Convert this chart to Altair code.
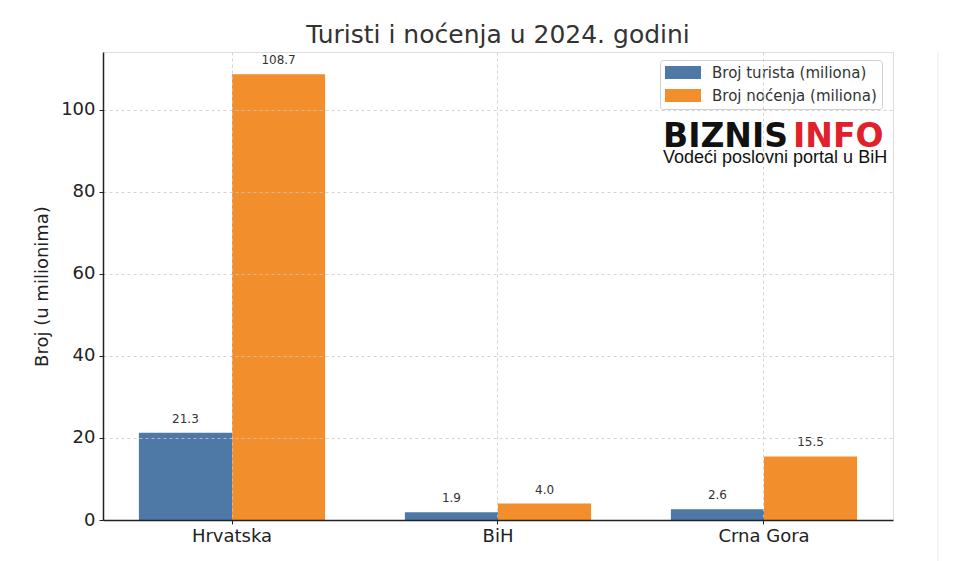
import altair as alt
import pandas as pd

countries = ["Hrvatska", "BiH", "Crna Gora"]
tourists = [21.3, 1.9, 2.6]
nights = [108.7, 4.0, 15.5]
series_names = ["Broj turista (miliona)", "Broj noćenja (miliona)"]
series_colors = ["#4e79a7", "#f28e2b"]

rows = []
for c, t, n in zip(countries, tourists, nights):
    rows.append({"country": c, "series": series_names[0], "value": t})
    rows.append({"country": c, "series": series_names[1], "value": n})
df = pd.DataFrame(rows)
one = pd.DataFrame({"k": [0]})

FONT = "DejaVu Sans"

x_enc = alt.X("country:N", sort=countries, title=None,
              scale=alt.Scale(paddingInner=0.3, paddingOuter=0.135),
              axis=alt.Axis(labelAngle=0, labelFontSize=18, labelFont=FONT, labelColor="#222",
                            grid=True, gridDash=[3, 3], gridColor="#c8c8c8", gridWidth=0.8,
                            bandPosition=0.5, tickBand="center",
                            domainColor="#222", domainWidth=1.5, tickColor="#222", tickSize=4,
                            labelPadding=3, zindex=1))
xo_enc = alt.XOffset("series:N", sort=series_names,
                     scale=alt.Scale(paddingInner=0, paddingOuter=0))
y_enc = alt.Y("value:Q", title="Broj (u milionima)",
              scale=alt.Scale(domain=[0, 114.1], nice=False, zero=True),
              axis=alt.Axis(values=[0, 20, 40, 60, 80, 100], labelFontSize=18, labelFont=FONT,
                            labelColor="#222", titleFontSize=18, titleFont=FONT,
                            titleFontWeight="normal", titleColor="#222", titlePadding=9,
                            grid=True, gridDash=[3, 3], gridColor="#c8c8c8", gridWidth=0.8,
                            domainColor="#222", domainWidth=1.5, tickColor="#222", tickSize=4,
                            labelPadding=4, zindex=1))

bars = alt.Chart(df).mark_bar().encode(
    x=x_enc, xOffset=xo_enc, y=y_enc,
    color=alt.Color("series:N", sort=series_names,
                    scale=alt.Scale(domain=series_names, range=series_colors),
                    legend=alt.Legend(title=None, orient="none", legendX=557, legendY=8,
                                      labelFont=FONT, labelFontSize=15, labelColor="#333",
                                      labelLimit=400,
                                      symbolType="M-1.154,-1H4.385V1H-1.154Z", symbolSize=169,
                                      symbolStrokeWidth=0, symbolOpacity=1,
                                      strokeColor="#d0d0d0", fillColor="white", cornerRadius=3,
                                      padding=5, rowPadding=7, labelOffset=32)),
)

labels = alt.Chart(df).mark_text(dy=-7, fontSize=12, font=FONT, color="#333", baseline="bottom").encode(
    x=alt.X("country:N", sort=countries), xOffset=alt.XOffset("series:N", sort=series_names),
    y="value:Q", text=alt.Text("value:Q", format=".1f"),
)

logo_a = alt.Chart(one).mark_text(text="BIZNIS", font=FONT, fontSize=33, fontWeight="bold",
                                  color="#111", align="left", baseline="alphabetic").encode(
    x=alt.value(560), y=alt.value(95))
logo_b = alt.Chart(one).mark_text(text="INFO", font=FONT, fontSize=33, fontWeight="bold",
                                  color="#e0202a", align="left", baseline="alphabetic").encode(
    x=alt.value(690), y=alt.value(95))
logo_c = alt.Chart(one).mark_text(text="Vodeći poslovni portal u BiH", font="Liberation Sans",
                                  fontSize=18, color="#111", align="left", baseline="alphabetic").encode(
    x=alt.value(560), y=alt.value(111))

edge = alt.Chart(one).mark_rule(color="#ececec", strokeWidth=1, clip=False).encode(
    x=alt.value(835), y=alt.value(0), y2=alt.value(509))

chart = alt.layer(bars, labels, logo_a, logo_b, logo_c, edge).properties(
    width=790, height=468,
    padding={"left": 103, "top": 52, "right": 60, "bottom": 41},
    autosize=alt.AutoSizeParams(type="none"),
    title=alt.TitleParams("Turisti i noćenja u 2024. godini", font=FONT, fontSize=25,
                          fontWeight="normal", color="#333", anchor="middle", offset=4),
).configure_view(stroke=None).configure(background="white")

chart.save("out.html", embed_options={"renderer": "svg", "actions": False})
